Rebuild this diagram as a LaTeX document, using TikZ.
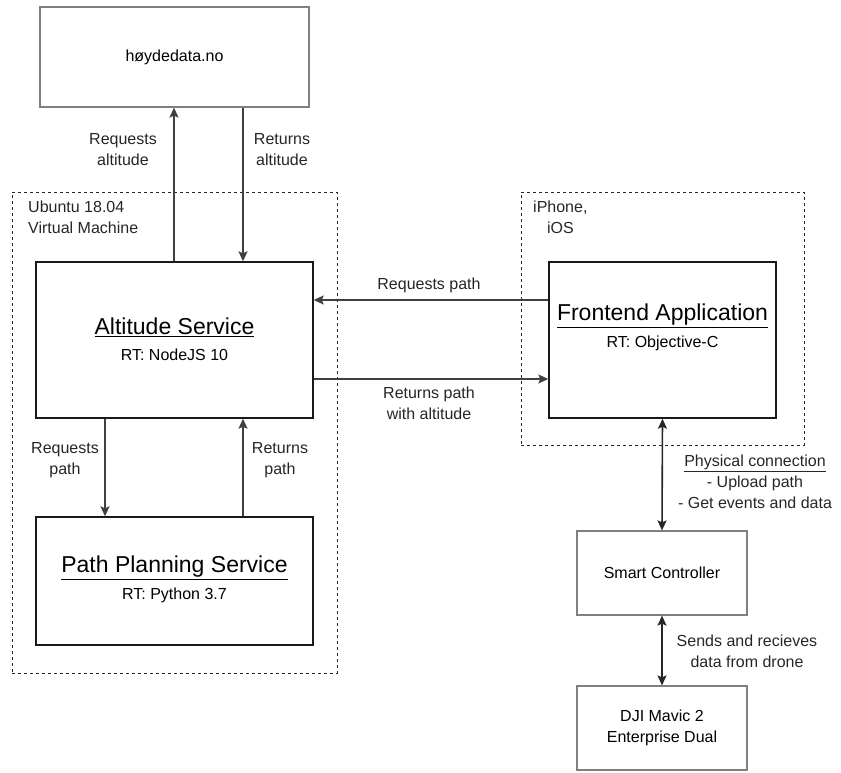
\documentclass[tikz,border=0pt]{standalone}
\usepackage{fontspec}
\setmainfont{Liberation Sans}
\usetikzlibrary{arrows.meta}
\begin{document}
\begin{tikzpicture}[x=1pt,y=-1pt,
  box/.style={draw=black!90, line width=1.4pt, rectangle, inner sep=0pt, align=center},
  graybox/.style={draw=black!50, line width=1.2pt, rectangle, inner sep=0pt, align=center, font=\fontsize{16}{21}\selectfont},
  group/.style={draw=black!85, dash pattern=on 3pt off 3pt, line width=1pt, rectangle, inner sep=0pt},
  conn/.style={line width=1.6pt, draw=black!75, -{Stealth[length=10pt,width=9pt,inset=2pt]}},
  bconn/.style={line width=1.6pt, draw=black!85, {Stealth[length=10pt,width=9pt,inset=2pt]}-{Stealth[length=10pt,width=9pt,inset=2pt]}},
  lbl/.style={font=\fontsize{16}{21}\selectfont, align=center, text=black!85, inner sep=0pt},
  ttl/.style={font=\fontsize{23}{26}\selectfont},
  sub/.style={font=\fontsize{16}{20}\selectfont},
]
\useasboundingbox (0,0) rectangle (841,772);

% groups
\node[group, minimum width=325pt, minimum height=481pt] (ubuntu) at (174.5,432.5) {};
\node[group, minimum width=283pt, minimum height=253pt] (iphone) at (662.5,318.5) {};
\node[lbl, align=left, anchor=north west] (ubuntulbl) at (28,201) {Ubuntu 18.04\\Virtual Machine};
\node[lbl, anchor=north west] (iphonelbl) at (533,201) {iPhone,\\iOS};

% boxes
\node[graybox, minimum width=269pt, minimum height=100pt] (hoy) at (174.5,57) {høydedata.no};
\node[box, minimum width=277pt, minimum height=156pt] (alt) at (174.5,340) {};
\node[box, minimum width=277pt, minimum height=128pt] (pp) at (174.5,581) {};
\node[box, minimum width=227pt, minimum height=156pt] (fe) at (662.5,340) {};
\node[graybox, minimum width=170pt, minimum height=84pt] (sc) at (662,573) {Smart Controller};
\node[graybox, minimum width=170pt, minimum height=84pt] (dji) at (662,728) {DJI Mavic 2\\Enterprise Dual};

% box texts
\node[ttl, inner sep=0pt] (alttitle) at (174.5,327) {\underline{Altitude Service}};
\node[sub, inner sep=0pt] (altsub) at (174.5,355) {RT: NodeJS 10};
\node[ttl, inner sep=0pt] (pptitle) at (174.5,568) {\underline{Path Planning Service}};
\node[sub, inner sep=0pt] (ppsub) at (174.5,595) {RT: Python 3.7};
\node[ttl, inner sep=0pt] (fetitle) at (662.5,316) {\underline{Frontend Application}};
\node[sub, inner sep=0pt] (fesub) at (662.5,343) {RT: Objective-C};

% helper coordinates
\coordinate (x174) at (174,0);
\coordinate (x243) at (243,0);
\coordinate (x105) at (105,0);
\coordinate (y300) at (0,300);
\coordinate (y379) at (0,379);

% connectors
\draw[conn] (alt.north -| x174) -- (hoy.south -| x174);
\draw[conn] (hoy.south -| x243) -- (alt.north -| x243);
\draw[conn] (alt.south -| x105) -- (pp.north -| x105);
\draw[conn] (pp.north -| x243) -- (alt.south -| x243);
\draw[conn] (fe.west |- y300) -- (alt.east |- y300);
\draw[conn] (alt.east |- y379) -- (fe.west |- y379);
\draw[bconn] (fe.south) -- (sc.north);
\draw[bconn] (sc.south) -- (dji.north);

% connector labels
\node[lbl] (l1) at (123,150) {Requests\\altitude};
\node[lbl] (l2) at (282,150) {Returns\\altitude};
\node[lbl] (l3) at (65,460) {Requests\\path};
\node[lbl] (l4) at (280,460) {Returns\\path};
\node[lbl] (l5) at (429,285) {Requests path};
\node[lbl] (l6) at (429,403) {Returns path\\with altitude};
\node[lbl] (l7) at (755,482) {\underline{Physical connection}\\- Upload path\\- Get events and data};
\node[lbl] (l8) at (747,651) {Sends and recieves\\data from drone};
\end{tikzpicture}
\end{document}
